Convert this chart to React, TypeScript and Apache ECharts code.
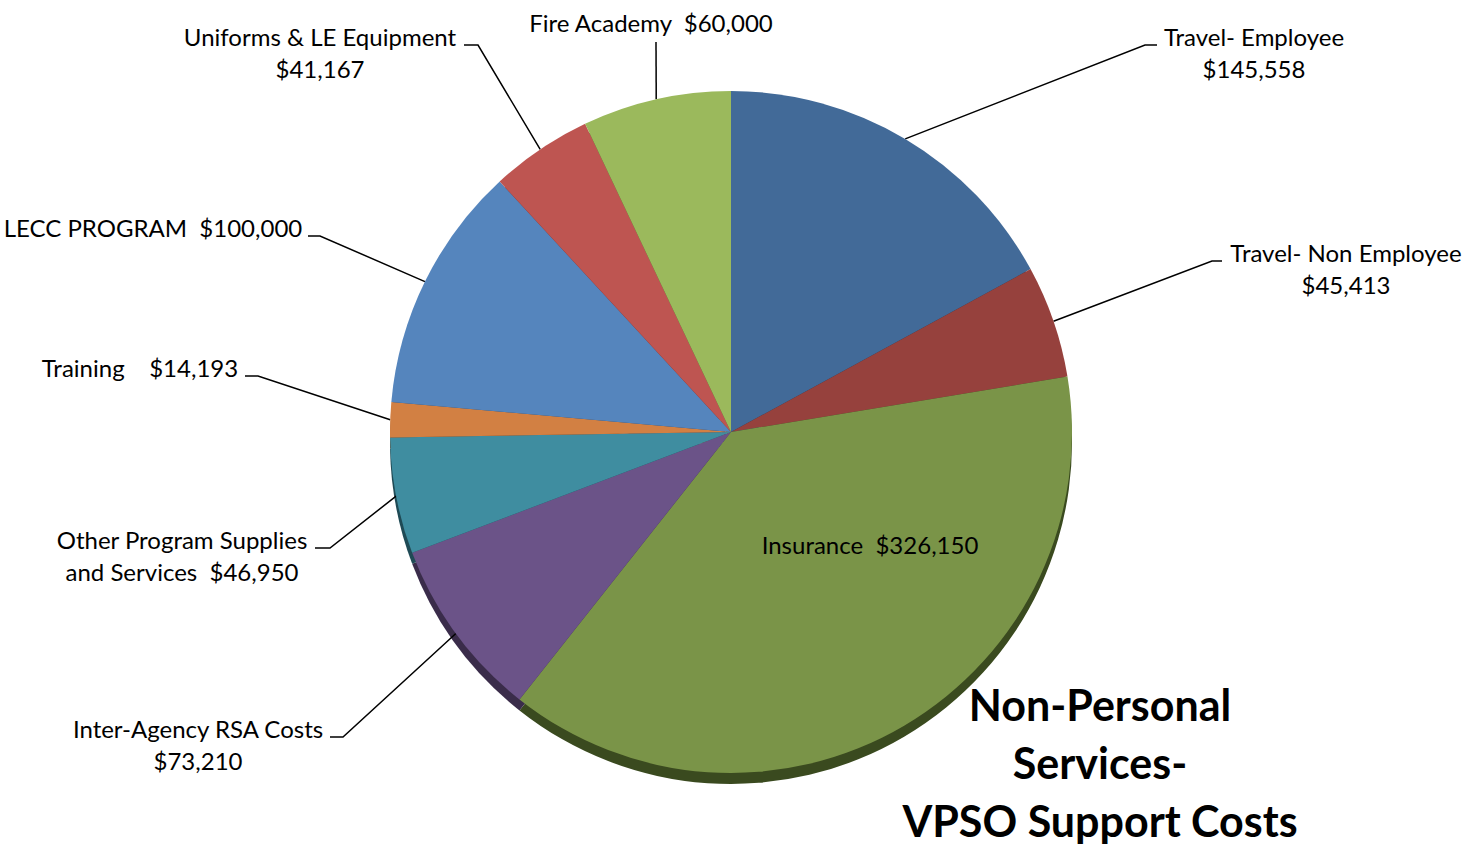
import React, { useEffect, useRef } from 'react';
import * as echarts from 'echarts';

const NAMES = [
  'Travel- Employee',
  'Travel- Non Employee',
  'Insurance',
  'Inter-Agency RSA Costs',
  'Other Program Supplies\nand Services',
  'Training',
  'LECC PROGRAM',
  'Uniforms & LE Equipment',
  'Fire Academy',
];
const VALUES = [145558, 45413, 326150, 73210, 46950, 14193, 100000, 41167, 60000];
const SEPARATORS = ['\n', '\n', '  ', '\n', '  ', '    ', '  ', '\n', '  '];
const COLORS = ['#426A98', '#96413D', '#7A9448', '#6B5388', '#3F8DA0', '#D28043', '#5585BD', '#BE5551', '#9BB95C'];
const EDGE_COLORS = ['#24384f', '#4d211f', '#3a4a1f', '#3a2c4a', '#1f4a55', '#6e3f1f', '#2c4566', '#63282a', '#4d5e2b'];
const TITLE_LINES = ['Non-Personal', 'Services-', 'VPSO Support Costs'];

// label placement (text block centre, line bend, line end)
const LABEL_LAYOUT: { x: number; y: number; elbow?: number[]; end?: number[] }[] = [
  { x: 1254, y: 52, elbow: [1145, 45], end: [1157, 45] },
  { x: 1346, y: 268, elbow: [1212, 261], end: [1222, 261] },
  { x: 870, y: 544 },
  { x: 198, y: 744, elbow: [343, 737], end: [330, 737] },
  { x: 182, y: 555, elbow: [330, 548], end: [315, 548] },
  { x: 140, y: 367, elbow: [258, 376], end: [245, 376] },
  { x: 153, y: 227, elbow: [320, 236], end: [308, 236] },
  { x: 320, y: 52, elbow: [478, 45], end: [464, 45] },
  { x: 651, y: 22, elbow: [656, 42], end: [656, 42] },
];

const CX = 731;
const CY = 432;
const R = 341;
const FONT = 'Lato, "Open Sans", sans-serif';

function fmt(v: number) {
  return '$' + v.toLocaleString('en-US');
}

export default function App() {
  const ref = useRef<HTMLDivElement>(null);
  useEffect(() => {
    if (!ref.current) return;
    const chart = echarts.init(ref.current, null, { renderer: 'svg' });
    const total = VALUES.reduce((a, b) => a + b, 0);
    const startPoint = (i: number) => {
      const before = VALUES.slice(0, i).reduce((a, b) => a + b, 0);
      const mid = ((before + VALUES[i] / 2) / total) * Math.PI * 2;
      return [CX + R * Math.sin(mid), CY - R * Math.cos(mid)];
    };
    const data = NAMES.map((n, i) => ({
      name: n,
      value: VALUES[i],
      itemStyle: { color: COLORS[i] },
      label: i === 2 ? { position: 'inside' } : undefined,
      labelLine: i === 2 ? { show: false } : undefined,
    }));
    const edgeData = NAMES.map((n, i) => ({ name: n, value: VALUES[i], itemStyle: { color: EDGE_COLORS[i] } }));
    chart.setOption({
      animation: false,
      backgroundColor: '#ffffff',
      graphic: [
        {
          type: 'text',
          x: 1100,
          y: 675,
          style: {
            text: TITLE_LINES.join('\n'),
            font: 'bold 43px ' + FONT,
            fill: '#000',
            align: 'center',
            verticalAlign: 'top',
            lineHeight: 58,
          },
          z: 10,
        },
      ],
      series: [
        {
          type: 'pie',
          silent: true,
          center: [CX, CY + 11],
          radius: R,
          startAngle: 90,
          clockwise: true,
          label: { show: false },
          labelLine: { show: false },
          data: edgeData,
          z: 1,
        },
        {
          type: 'pie',
          center: [CX, CY],
          radius: R,
          startAngle: 90,
          clockwise: true,
          avoidLabelOverlap: false,
          emphasis: { scale: false },
          label: {
            show: true,
            position: 'outside',
            color: '#000',
            fontFamily: FONT,
            fontSize: 24,
            lineHeight: 32,
            align: 'center',
            formatter: (p: any) => p.name + SEPARATORS[p.dataIndex] + fmt(p.value),
          },
          labelLine: { show: true, lineStyle: { color: '#000', width: 1.5 }, smooth: false },
          labelLayout: (p: any) => {
            const L = LABEL_LAYOUT[p.dataIndex];
            const res: any = { x: L.x, y: L.y, align: 'center', verticalAlign: 'middle' };
            if (L.end && L.elbow) {
              res.labelLinePoints = [startPoint(p.dataIndex), L.elbow, L.end];
            }
            return res;
          },
          data,
          z: 2,
        },
      ],
    });
    return () => chart.dispose();
  }, []);
  return (
    <div
      ref={ref}
      style={{ position: 'fixed', left: 0, top: 0, width: 1476, height: 848, background: '#fff' }}
    />
  );
}
